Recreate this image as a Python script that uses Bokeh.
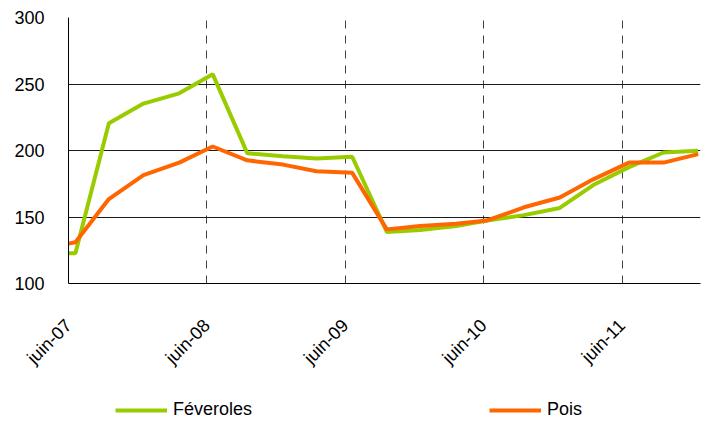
import math
from bokeh.plotting import figure
from bokeh.layouts import column
from bokeh.models import Range1d, FixedTicker, Legend, LegendItem
from bokeh.embed import file_html
from bokeh.resources import INLINE

# months since juin-07
months = [0, 0.6, 3.5, 6.5, 9.6, 12.5, 15.5, 18.6, 21.5, 24.6, 27.6, 30.5,
          33.6, 36.3, 39.5, 42.6, 45.5, 48.6, 51.6, 54.6]
feveroles = [122.7, 122.7, 220.5, 235.3, 243.0, 257.4, 198.0, 195.6, 193.9, 195.3,
             138.8, 140.3, 143.2, 147.4, 151.4, 156.8, 174.0, 187.5, 198.5, 199.8]
pois = [130.0, 131.0, 163.5, 181.5, 190.9, 203.0, 192.6, 189.4, 184.4, 183.2,
        140.7, 143.3, 145.0, 147.4, 157.3, 164.7, 178.3, 190.9, 190.9, 197.3]
tick_months = [0, 12, 24, 36, 48]
tick_labels = ["juin-07", "juin-08", "juin-09", "juin-10", "juin-11"]
y_ticks = [100, 150, 200, 250, 300]
series_names = ["Féveroles", "Pois"]
series_colors = ["#99CC00", "#FF6600"]
series_values = [feveroles, pois]

FONT = "Liberation Sans"

p = figure(width=701, height=377, x_range=Range1d(0, 54.8), y_range=Range1d(100, 300),
           output_backend="svg", toolbar_location=None,
           min_border_left=68, min_border_right=1, min_border_top=17, min_border_bottom=90)
p.outline_line_color = None
p.background_fill_color = "white"

# axes
p.xaxis.ticker = FixedTicker(ticks=tick_months)
p.xaxis.major_label_overrides = {m: l for m, l in zip(tick_months, tick_labels)}
p.xaxis.major_label_orientation = math.pi / 4
p.xaxis.major_label_standoff = 33
p.yaxis.ticker = FixedTicker(ticks=y_ticks)
p.yaxis.major_label_standoff = 18
for ax in (p.xaxis, p.yaxis):
    ax.major_tick_line_color = None
    ax.minor_tick_line_color = None
    ax.axis_line_color = "black"
    ax.axis_line_width = 1
    ax.major_label_text_font = FONT
    ax.major_label_text_font_size = "18px"
    ax.major_label_text_color = "black"

# grids
p.ygrid.ticker = FixedTicker(ticks=y_ticks)
p.ygrid.grid_line_color = "#1a1a1a"
p.ygrid.grid_line_width = 1
p.xgrid.ticker = FixedTicker(ticks=tick_months[1:])
p.xgrid.grid_line_color = "#404040"
p.xgrid.grid_line_dash = "8 7"
p.xgrid.grid_line_width = 1

for vals, col in zip(series_values, series_colors):
    p.line(months, vals, line_color=col, line_width=4)

# legend strip below the chart (its series lie outside its view; only the legend shows)
pl = figure(width=701, height=44, x_range=Range1d(0, 1), y_range=Range1d(0, 1),
            output_backend="svg", toolbar_location=None,
            x_axis_type=None, y_axis_type=None, min_border=0)
pl.outline_line_color = None
pl.grid.visible = False
items = []
for name, vals, col in zip(series_names, series_values, series_colors):
    r = pl.line(months, vals, line_color=col, line_width=4)
    items.append(LegendItem(label=name, renderers=[r]))
legend = Legend(items=items, location=(47, 1), orientation="horizontal", spacing=237,
                glyph_width=52, glyph_height=20, label_standoff=6, padding=0, margin=0,
                border_line_color=None, background_fill_alpha=0,
                label_text_font=FONT, label_text_font_size="18px", label_text_color="black")
pl.add_layout(legend)

layout = column(p, pl, spacing=0)
open("out.html", "w").write(file_html(layout, INLINE))
